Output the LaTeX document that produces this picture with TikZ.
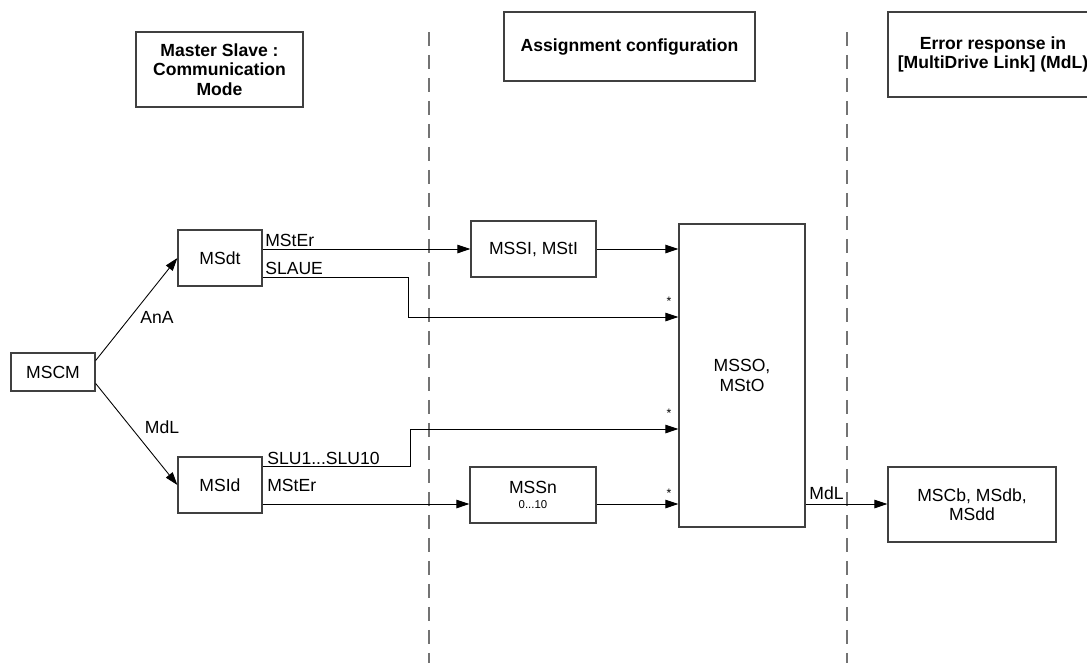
\documentclass[tikz,border=0pt]{standalone}
\usepackage{fontspec}
\setmainfont{Liberation Sans}
\usetikzlibrary{arrows.meta}

\begin{document}
\begin{tikzpicture}[
    x=0.02cm, y=-0.02cm,
    block/.style={draw=black!75, line width=0.7pt, align=center, inner sep=0pt, font=\fontsize{10}{11}\selectfont},
    head/.style={block, font=\bfseries\fontsize{10}{11}\selectfont},
    arrow/.style={-{Triangle[length=0.26cm,width=0.17cm]}, line width=0.5pt},
    lbl/.style={inner sep=0pt, font=\fontsize{10}{11}\selectfont},
    star/.style={inner sep=0pt, font=\fontsize{7}{8}\selectfont},
    divider/.style={draw=black!55, line width=0.9pt, dash pattern=on 0.28cm off 0.18cm}
]
\useasboundingbox (0,0) rectangle (1087,663);
\draw[divider] (429,32) -- (429,663);
\draw[divider] (847,32) -- (847,663);
\node[head, minimum width=3.34cm, minimum height=1.5cm] (hmode) at (219.5,69.5) {Master Slave :\\Communication\\Mode};
\node[head, minimum width=5.02cm, minimum height=1.38cm] (hassign) at (629.5,46.5) {Assignment configuration};
\node[head, minimum width=4.2cm, minimum height=1.7cm] (herror) at (993,54.5) {Error response in\\{}[MultiDrive Link] (MdL)};
\node[block, minimum width=1.68cm, minimum height=0.76cm] (mscm) at (53,372) {MSCM};
\node[block, minimum width=1.68cm, minimum height=1.12cm] (msdt) at (220,258) {MSdt};
\node[block, minimum width=1.68cm, minimum height=1.12cm] (msid) at (220,485) {MSId};
\node[block, minimum width=2.5cm, minimum height=1.12cm] (mssi) at (533.5,249) {MSSI, MStI};
\node[block, minimum width=2.52cm, minimum height=1.12cm] (mssn) at (533,495) {MSSn\\[-2pt]{\fontsize{6.5}{7}\selectfont 0...10}};
\node[block, minimum width=2.52cm, minimum height=6.06cm] (msso) at (742,375.5) {MSSO,\\MStO};
\node[block, minimum width=3.36cm, minimum height=1.5cm] (mscb) at (972,504.5) {MSCb, MSdb,\\MSdd};
\coordinate (slaue) at (408,277);
\coordinate (slauedn) at (408,317);
\coordinate (slu) at (410,466);
\coordinate (sluup) at (410,429);
\coordinate (lowrow) at (0,504);
\draw[arrow] (mscm.15) -- (msdt.west);
\draw[arrow] (mscm.-15) -- (msid.west);
\draw[arrow] (msdt.east |- mssi.west) -- (mssi.west);
\draw[arrow] (mssi.east) -- (mssi.east -| msso.west);
\draw[arrow] (msdt.east |- slaue) -- (slaue) -- (slauedn) -- (msso.west |- slauedn);
\draw[arrow] (msid.east |- slu) -- (slu) -- (sluup) -- (msso.west |- sluup);
\draw[arrow] (msid.east |- lowrow) -- (mssn.west |- lowrow);
\draw[arrow] (mssn.east |- lowrow) -- (msso.west |- lowrow);
\draw[arrow] (msso.east |- lowrow) -- (mscb.west |- lowrow);
\node[lbl] (lana) at (157,317) {AnA};
\node[lbl] (lmdl) at (162,427) {MdL};
\node[lbl, anchor=base west] (lmster1) at (265,246.5) {MStEr};
\node[lbl, anchor=base west] (lslaue) at (265,274.5) {SLAUE};
\node[lbl, anchor=base west] (lslu) at (267,464.5) {SLU1...SLU10};
\node[lbl, anchor=base west] (lmster2) at (267,491.5) {MStEr};
\node[lbl, anchor=base west] (lmdlout) at (809,499.5) {MdL};
\node[star] (st1) at (669,301) {*};
\node[star] (st2) at (669,413) {*};
\node[star] (st3) at (669,493) {*};
\end{tikzpicture}
\end{document}
